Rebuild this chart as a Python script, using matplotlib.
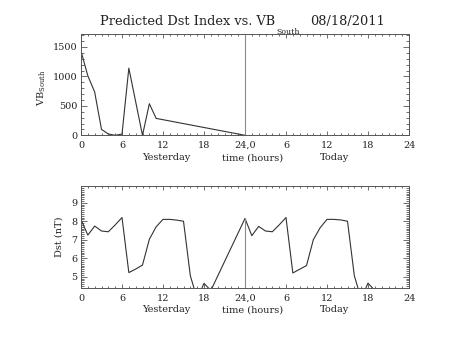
import matplotlib
matplotlib.use("Agg")
import matplotlib.pyplot as plt
from matplotlib.ticker import MultipleLocator, FixedLocator

# ---- data ----
vb_hours = [0, 1, 2, 3, 4, 5, 6, 7, 8, 9, 10, 11, 24]
vb_values = [1430, 1010, 735, 100, 22, 0, 20, 1140, 570, 0, 536, 287, 0]

dst_hours_yesterday = list(range(0, 20))
dst_yesterday = [8.10, 7.25, 7.74, 7.47, 7.43, 7.80, 8.20, 5.22, 5.41, 5.63,
                 7.02, 7.70, 8.10, 8.10, 8.06, 8.00, 5.05, 3.80, 4.64, 4.25]
dst_hours_today = list(range(24, 44))
dst_today = [8.15, 7.22, 7.72, 7.47, 7.43, 7.80, 8.20, 5.20, 5.40, 5.60,
             7.00, 7.65, 8.10, 8.10, 8.07, 8.00, 5.05, 3.80, 4.65, 4.25]

x_ticks = [0, 6, 12, 18, 24, 30, 36, 42, 48]
x_ticklabels = ["0", "6", "12", "18", "24,0", "6", "12", "18", "24"]

title_main = "Predicted Dst Index vs. VB"
title_sub = "South"
date_text = "08/18/2011"

# ---- style ----
plt.rcParams["font.family"] = ["DejaVu Serif"]
plt.rcParams["mathtext.fontset"] = "dejavuserif"
ink = "#222222"
axis_col = "#555555"
line_col = "#333333"
mid_col = "#8a8a8a"

W, H = 453, 340
fig = plt.figure(figsize=(W / 100, H / 100), dpi=100)


def fx(px):
    return px / W


def fy(py):
    return 1 - py / H


left, right = 81, 409
ax1 = fig.add_axes([fx(left), fy(135.3), fx(right - left), (135.3 - 33.7) / H])
ax2 = fig.add_axes([fx(left), fy(288.3), fx(right - left), (288.3 - 186.3) / H])


def style(ax, ymaj, ymin_step):
    ax.set_xlim(0, 48)
    ax.xaxis.set_major_locator(FixedLocator(x_ticks))
    ax.set_xticklabels(x_ticklabels)
    ax.xaxis.set_minor_locator(MultipleLocator(1))
    ax.yaxis.set_major_locator(MultipleLocator(ymaj))
    ax.yaxis.set_minor_locator(MultipleLocator(ymin_step))
    ax.tick_params(axis="both", which="both", direction="in",
                   top=True, right=True, colors=axis_col, labelcolor=ink,
                   labelsize=6.9, width=0.6)
    ax.tick_params(axis="x", which="major", length=3.0, pad=4)
    ax.tick_params(axis="x", which="minor", length=1.5)
    ax.tick_params(axis="y", which="major", length=4.0, pad=2.5)
    ax.tick_params(axis="y", which="minor", length=2.0)
    for s in ax.spines.values():
        s.set_color(axis_col)
        s.set_linewidth(0.7)


# ---- top panel: VB south ----
style(ax1, 500, 100)
ax1.set_ylim(0, 1725)
ax1.plot(vb_hours, vb_values, color=line_col, lw=0.8)
ax1.axvline(24, color=mid_col, lw=0.8)

# ---- bottom panel: Dst ----
style(ax2, 1, 0.1)
ax2.set_ylim(4.37, 9.89)
ax2.plot(dst_hours_yesterday + dst_hours_today, dst_yesterday + dst_today,
         color=line_col, lw=0.8)
ax2.vlines(24, 4.37, dst_today[0], color=mid_col, lw=0.8)

# ---- texts ----
fig.text(fx(100), fy(25), title_main, fontsize=9.3, color=ink,
         ha="left", va="baseline")
fig.text(fx(276), fy(33.5), title_sub, fontsize=5.6, color=ink,
         ha="left", va="baseline")
fig.text(fx(310), fy(25), date_text, fontsize=9.3, color=ink,
         ha="left", va="baseline")

fig.text(fx(42), fy(88), r"VB$_\mathregular{South}$", rotation=90,
         fontsize=7, color=ink, ha="center", va="center")
fig.text(fx(59), fy(237), "Dst (nT)", rotation=90,
         fontsize=7, color=ink, ha="center", va="center")

for ypx in (158, 310):
    fig.text(fx(166), fy(ypx), "Yesterday", fontsize=7, color=ink,
             ha="center", va="center")
    fig.text(fx(253), fy(ypx), "time (hours)", fontsize=7, color=ink,
             ha="center", va="center")
    fig.text(fx(334), fy(ypx), "Today", fontsize=7, color=ink,
             ha="center", va="center")

fig.savefig("out.png", dpi=100)
